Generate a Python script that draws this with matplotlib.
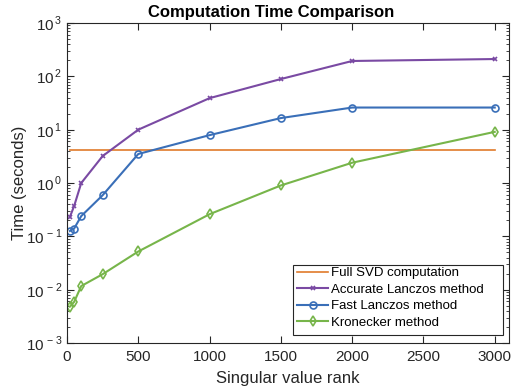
import matplotlib
matplotlib.use('Agg')
import matplotlib.pyplot as plt
import numpy as np
from matplotlib.ticker import LogLocator, NullFormatter
from matplotlib.patches import Rectangle

plt.rcParams['font.family'] = ['Liberation Sans', 'DejaVu Sans']
plt.rcParams['mathtext.fontset'] = 'custom'
plt.rcParams['mathtext.rm'] = 'Liberation Sans'

# data
rank = np.array([20, 50, 100, 250, 500, 1000, 1500, 2000, 3000])
full_svd = np.array([4.2, 4.2])
full_x = np.array([20, 3000])
accurate = np.array([0.23, 0.37, 1.0, 3.2, 10, 39, 89, 194, 211])
fast = np.array([0.126, 0.14, 0.24, 0.59, 3.5, 7.9, 16.5, 26, 26])
kron = np.array([0.0048, 0.0059, 0.0117, 0.0195, 0.052, 0.26, 0.9, 2.4, 9.1])

c_orange = '#e07a2a'
c_purple = '#7a4aa3'
c_blue = '#3a6fb8'
c_green = '#77b54a'

W, H = 511, 389
fig = plt.figure(figsize=(W / 100, H / 100), dpi=100)
ax = fig.add_axes([67 / W, 46 / H, 442 / W, 320 / H])

ax.plot(full_x, full_svd, color=c_orange, lw=1.2, label='Full SVD computation')
ax.plot(rank, accurate, color=c_purple, lw=1.5, marker='x', ms=3.5, mew=1.2,
        label='Accurate Lanczos method')
ax.plot(rank, fast, color=c_blue, lw=1.5, marker='o', ms=5, mfc='none', mew=1.2,
        label='Fast Lanczos method')
ax.plot(rank, kron, color=c_green, lw=1.5, marker='d', ms=5.5, mfc='none', mew=1.2,
        label='Kronecker method')

ax.set_yscale('log')
ax.set_ylim(1e-3, 1e3)
ax.set_xlim(0, 3100)
ax.set_xticks([0, 500, 1000, 1500, 2000, 2500, 3000])
ax.set_yticks([1e-3, 1e-2, 1e-1, 1e0, 1e1, 1e2, 1e3])
ax.set_yticklabels([r'$10^{\/%d}$' % e for e in range(-3, 4)])
ax.yaxis.set_minor_locator(LogLocator(base=10, subs=np.arange(2, 10), numticks=20))
ax.yaxis.set_minor_formatter(NullFormatter())

ax.tick_params(which='both', direction='in', top=True, right=True,
               colors='#262626', labelsize=11)
ax.tick_params(which='major', length=5, width=0.8)
ax.tick_params(axis='x', pad=5)
ax.tick_params(which='minor', length=2.5, width=0.6)
for s in ax.spines.values():
    s.set_color('#262626')
    s.set_linewidth(0.8)

ax.set_xlabel('Singular value rank', fontsize=12, color='#262626', labelpad=5)
ax.set_ylabel('Time (seconds)', fontsize=12, color='#262626')
ax.yaxis.set_label_coords(-0.0905, 0.5)
ax.set_title('Computation Time Comparison', fontsize=12, fontweight='bold', pad=4,
             x=0.4615)

# legend box (MATLAB style, extra room on the right)
box = Rectangle((293 / W, 1 - 335 / H), 210 / W, 70 / H, transform=fig.transFigure,
                facecolor='white', edgecolor='#262626', lw=0.8, zorder=4)
ax.add_artist(box)
leg = ax.legend(loc='upper left', bbox_to_anchor=(297 / W, 1 - 267 / H),
                bbox_transform=fig.transFigure, fontsize=9.5, frameon=False,
                handlelength=2.35, handletextpad=0.2, borderpad=0, labelspacing=0.33,
                borderaxespad=0)
leg.set_zorder(5)

plt.savefig('out.png', dpi=100)
